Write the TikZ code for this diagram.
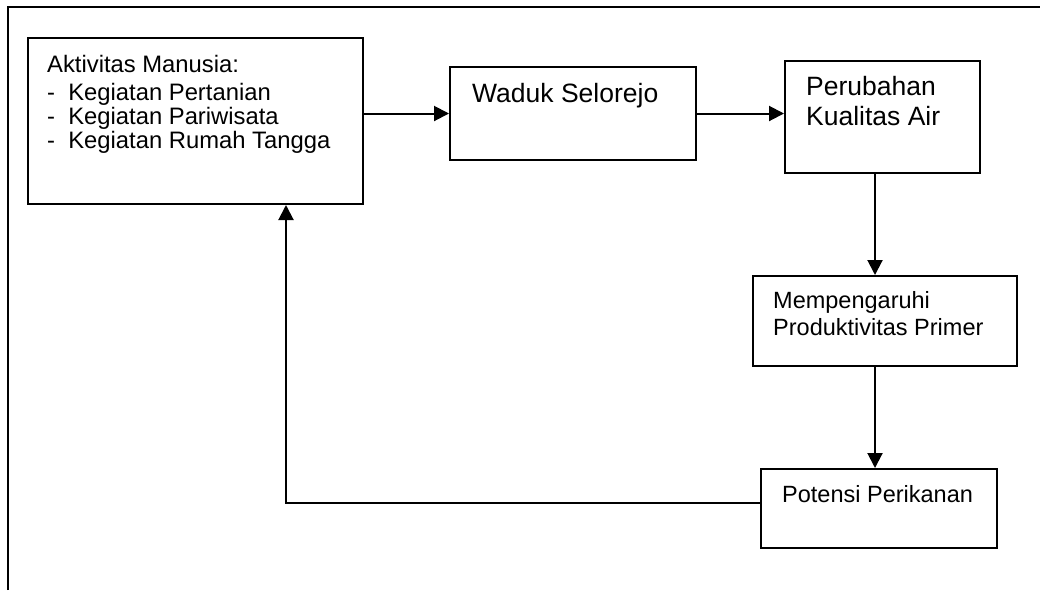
\documentclass[tikz,border=0pt]{standalone}
\usepackage{fontspec}
\setmainfont{Liberation Sans}
\usetikzlibrary{positioning,arrows.meta}

\begin{document}
\begin{tikzpicture}[x=1pt, y=-1pt,
  kotak/.style={rectangle, draw, line width=2pt, inner sep=0pt, anchor=north west},
  teks/.style={inner sep=0pt, align=left, font=\fontsize{23.5}{24}\selectfont},
  besar/.style={font=\fontsize{26.5}{30}\selectfont},
  sedang/.style={font=\fontsize{23.5}{27}\selectfont},
  panah/.style={-{Triangle[length=15pt,width=15pt]}, line width=2pt}]
  \useasboundingbox (0,0) rectangle (1040,590);
  % bingkai luar
  \draw[line width=2pt] (8,590) -- (8,7) -- (1040,7);

  \node (aktivitas) [kotak, minimum width=335pt, minimum height=166pt] at (27,37) {};
  \node (waduk) [kotak, minimum width=246pt, minimum height=93pt] at (449,66) {};
  \node (perubahan) [kotak, minimum width=195pt, minimum height=112pt] at (784,60) {};
  \node (pengaruh) [kotak, minimum width=264pt, minimum height=90pt] at (752,275) {};
  \node (potensi) [kotak, minimum width=236pt, minimum height=79pt] at (760,468) {};

  \node (aktivitas-t) [teks, font=\fontsize{23.8}{24}\selectfont, below right=18pt and 20pt of aktivitas.north west]
    {Aktivitas Manusia:\\[4pt] -~~Kegiatan Pertanian\\ -~~Kegiatan Pariwisata\\ -~~Kegiatan Rumah Tangga};
  \node (waduk-t) [teks, besar, below right=17pt and 23pt of waduk.north west] {Waduk Selorejo};
  \node (perubahan-t) [teks, besar, below right=16pt and 22pt of perubahan.north west] {Perubahan\\ Kualitas Air};
  \node (pengaruh-t) [teks, sedang, below right=16pt and 21pt of pengaruh.north west] {Mempengaruhi\\ Produktivitas Primer};
  \node (potensi-t) [teks, below right=17pt and 22pt of potensi.north west] {Potensi Perikanan};

  \coordinate (kolom) at (875,0);
  \coordinate (belok) at (286,503);

  \draw[panah] (waduk.west -| aktivitas.east) -- (waduk.west);
  \draw[panah] (waduk.east) -- (waduk.east -| perubahan.west);
  \draw[panah] (perubahan.south -| kolom) -- (pengaruh.north -| kolom);
  \draw[panah] (pengaruh.south -| kolom) -- (potensi.north -| kolom);
  \draw[panah] (potensi.west |- belok) -- (belok) -- (aktivitas.south -| belok);
\end{tikzpicture}
\end{document}
